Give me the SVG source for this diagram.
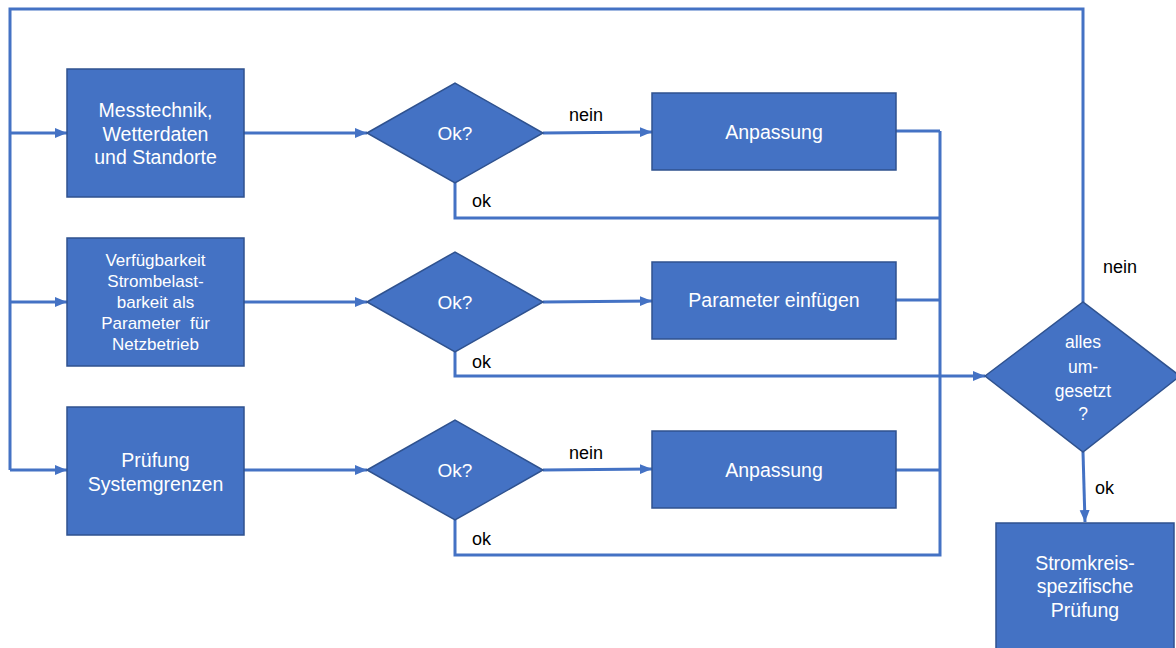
<svg xmlns="http://www.w3.org/2000/svg" width="1176" height="648" viewBox="0 0 1176 648">
<style>
.node{fill:#4472C4;stroke:#2F528F;stroke-width:1.5}
.w{fill:#FFFFFF;font-family:"Liberation Sans",Arial,sans-serif;text-anchor:middle}
.lbl{fill:#000000;font-family:"Liberation Sans",Arial,sans-serif;font-size:18px}
.c{fill:none;stroke:#4472C4;stroke-width:3}
</style>
<defs>
<marker id="ah" markerUnits="userSpaceOnUse" markerWidth="12" markerHeight="12" viewBox="0 0 12 12" refX="12" refY="6" orient="auto">
<path d="M0,1 L12,6 L0,11 Z" fill="#4472C4"/>
</marker>
</defs>
<rect width="1176" height="648" fill="#FFFFFF"/>
<g id="connectors">
<polyline class="c" points="1083,302 1083,9 10,9 10,470"/>
<line class="c" x1="10" y1="133" x2="67" y2="133" marker-end="url(#ah)"/>
<line class="c" x1="10" y1="302" x2="67" y2="302" marker-end="url(#ah)"/>
<line class="c" x1="10" y1="470" x2="67" y2="470" marker-end="url(#ah)"/>
<line class="c" x1="244" y1="133" x2="367" y2="133" marker-end="url(#ah)"/>
<line class="c" x1="244" y1="302" x2="367" y2="302" marker-end="url(#ah)"/>
<line class="c" x1="244" y1="470" x2="367" y2="470" marker-end="url(#ah)"/>
<line class="c" x1="543" y1="133" x2="652" y2="132" marker-end="url(#ah)"/>
<line class="c" x1="543" y1="302" x2="652" y2="301" marker-end="url(#ah)"/>
<line class="c" x1="543" y1="470" x2="652" y2="469" marker-end="url(#ah)"/>
<polyline class="c" points="896,131 940,131"/>
<polyline class="c" points="896,300 940,300"/>
<polyline class="c" points="896,470 940,470"/>
<polyline class="c" points="455,183 455,218 940,218"/>
<polyline class="c" points="455,352 455,376 985,376" marker-end="url(#ah)"/>
<polyline class="c" points="455,520 455,555 940,555 940,131"/>
<line class="c" x1="1083" y1="452" x2="1085" y2="522" marker-end="url(#ah)"/>
</g>
<g id="n1">
<rect class="node" x="67" y="69" width="177" height="128"/>
<text class="w" font-size="19.5"><tspan x="155.5" y="117">Messtechnik,</tspan><tspan x="155.5" y="141">Wetterdaten</tspan><tspan x="155.5" y="164">und Standorte</tspan></text>
</g>
<g id="n2">
<rect class="node" x="67" y="238" width="177" height="128"/>
<text class="w" font-size="17"><tspan x="155.5" y="266">Verfügbarkeit</tspan><tspan x="155.5" y="287">Strombelast-</tspan><tspan x="155.5" y="308">barkeit als</tspan><tspan x="155.5" y="329" xml:space="preserve">Parameter  für</tspan><tspan x="155.5" y="350">Netzbetrieb</tspan></text>
</g>
<g id="n3">
<rect class="node" x="67" y="407" width="177" height="128"/>
<text class="w" font-size="19.5"><tspan x="155.5" y="467">Prüfung</tspan><tspan x="155.5" y="491">Systemgrenzen</tspan></text>
</g>
<g id="d1">
<polygon class="node" points="367,133 455,83 543,133 455,183"/>
<text class="w" font-size="19" x="455" y="140">Ok?</text>
</g>
<g id="d2">
<polygon class="node" points="367,302 455,252 543,302 455,352"/>
<text class="w" font-size="19" x="455" y="309">Ok?</text>
</g>
<g id="d3">
<polygon class="node" points="367,470 455,420 543,470 455,520"/>
<text class="w" font-size="19" x="455" y="477">Ok?</text>
</g>
<g id="a1">
<rect class="node" x="652" y="93" width="244" height="77"/>
<text class="w" font-size="19.5" x="774" y="139">Anpassung</text>
</g>
<g id="a2">
<rect class="node" x="652" y="262" width="244" height="77"/>
<text class="w" font-size="19.5" x="774" y="307">Parameter einfügen</text>
</g>
<g id="a3">
<rect class="node" x="652" y="431" width="244" height="77"/>
<text class="w" font-size="19.5" x="774" y="477">Anpassung</text>
</g>
<g id="d4">
<polygon class="node" points="985,376 1083,302 1180,376 1083,452"/>
<text class="w" font-size="17.5"><tspan x="1083" y="348">alles</tspan><tspan x="1083" y="373">um-</tspan><tspan x="1083" y="397">gesetzt</tspan><tspan x="1083" y="420">?</tspan></text>
</g>
<g id="n4">
<rect class="node" x="996" y="523" width="178" height="140"/>
<text class="w" font-size="19.5"><tspan x="1085" y="570">Stromkreis-</tspan><tspan x="1085" y="593">spezifische</tspan><tspan x="1085" y="617">Prüfung</tspan></text>
</g>
<g id="labels">
<text class="lbl" x="569" y="121">nein</text>
<text class="lbl" x="472" y="207">ok</text>
<text class="lbl" x="472" y="368">ok</text>
<text class="lbl" x="569" y="459">nein</text>
<text class="lbl" x="472" y="545">ok</text>
<text class="lbl" x="1103" y="273">nein</text>
<text class="lbl" x="1095" y="494">ok</text>
</g>
</svg>
